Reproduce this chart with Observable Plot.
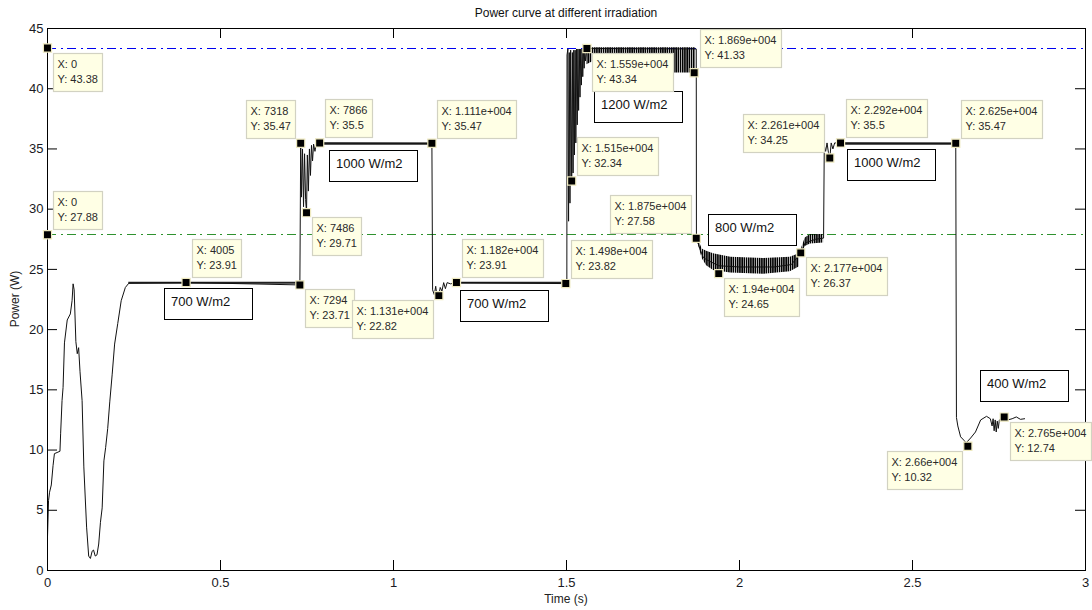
<!DOCTYPE html>
<html><head><meta charset="utf-8">
<script src="https://cdn.jsdelivr.net/npm/d3@7"></script>
<script src="https://cdn.jsdelivr.net/npm/@observablehq/plot@0.6"></script>
<style>html,body{margin:0;padding:0;background:#fff;}</style>
</head><body>
<div id="chart"></div>
<script>
// ---------- DATA (time in s, power in W) ----------
const startup = [[0,2.8],[0.003,5.8],[0.006,6.5],[0.011,7.1],[0.016,8.7],[0.020,9.7],[0.036,9.9],[0.038,11.4],[0.042,14.1],[0.045,15.2],[0.049,18.9],[0.057,20.8],[0.066,21.3],[0.071,22.4],[0.074,23.8],[0.077,23.3],[0.082,19.0],[0.086,18.0],[0.090,18.5],[0.094,16.5],[0.100,14.1],[0.105,8.6],[0.113,3.6],[0.119,1.2],[0.124,1.0],[0.129,1.6],[0.133,1.7],[0.138,1.2],[0.143,1.3],[0.148,2.2],[0.153,4.0],[0.158,5.2],[0.163,9.1],[0.168,10.2],[0.174,11.8],[0.180,14.0],[0.187,16.3],[0.194,18.8],[0.203,20.5],[0.213,22.4],[0.225,23.5],[0.235,23.85]];
const plateau700a = [[0.4005,23.91],[0.7294,23.71]];
const step1000a = [[0.7318,35.47],[0.734,31.0],[0.737,35.0],[0.740,30.2],[0.743,34.6],[0.746,30.8],[0.7486,29.71],[0.751,34.5],[0.754,31.5],[0.757,35.0],[0.760,32.8],[0.763,35.3],[0.766,34.0],[0.769,35.4],[0.773,34.8],[0.777,35.5],[0.7866,35.5]];
const plateau1000a = [[1.111,35.47]];
const drop700b = [[1.113,23.3],[1.118,22.9],[1.122,23.6],[1.125,22.9],[1.131,22.82],[1.135,23.5],[1.140,23.2],[1.145,23.9],[1.150,23.4],[1.155,23.9],[1.165,23.8],[1.182,23.91]];
const plateau700b = [[1.498,23.82],[1.501,23.9]];
const rise1200 = [[1.5015,42.8],[1.504,43.3],[1.506,29.0],[1.508,43.0],[1.510,30.5],[1.512,43.2],[1.515,32.34],[1.517,43.0],[1.519,33.0],[1.521,43.2],[1.523,34.5],[1.525,43.2],[1.527,35.5],[1.529,43.3],[1.531,37.0],[1.533,43.3],[1.535,38.2],[1.537,43.3],[1.539,39.3],[1.541,43.3],[1.543,40.3],[1.545,43.3],[1.547,41.0],[1.549,43.3],[1.551,41.7],[1.553,43.3],[1.555,42.3],[1.559,43.34]];
const plateau1200 = [[1.875,43.3]];
const drop800 = [[1.8755,27.58],[1.880,27.2],[1.887,26.6],[1.895,26.0],[1.905,25.8],[1.94,25.3],[2.0,25.2],[2.1,25.2],[2.15,25.4],[2.177,26.37],[2.19,27.2],[2.22,27.5],[2.243,27.6]];
const rise1000b = [[2.245,35.3],[2.249,34.8],[2.253,35.5],[2.257,34.7],[2.261,34.25],[2.265,35.5],[2.270,35.0],[2.275,35.5],[2.292,35.5]];
const plateau1000b = [[2.625,35.47]];
const drop400 = [[2.627,12.7],[2.631,12.0],[2.639,11.1],[2.649,10.8],[2.655,10.6],[2.668,11.0],[2.682,11.5],[2.697,12.5],[2.714,12.8],[2.725,12.6],[2.730,12.0],[2.733,12.6],[2.736,11.6],[2.739,12.5],[2.742,11.5],[2.745,12.4],[2.748,11.8],[2.751,12.5],[2.756,12.6],[2.765,12.74],[2.775,12.5],[2.788,12.6],[2.800,12.75],[2.812,12.55],[2.824,12.6]];

// ripple envelopes: [t, low, high]
const ripple700a = [[0.235,23.76,23.93],[0.729,23.76,23.93]];
const ripple1000a = [[0.787,35.3,35.5],[1.111,35.3,35.5]];
const ripple700b = [[1.182,23.76,23.93],[1.498,23.76,23.93]];
const ripple1000b = [[2.292,35.3,35.5],[2.625,35.3,35.5]];
const ripple1200 = [[1.559,42.0,43.4],[1.58,42.3,43.4],[1.65,42.6,43.4],[1.75,42.5,43.4],[1.80,42.2,43.4],[1.81,41.3,43.4],[1.873,41.3,43.4]];
const ripple800 = [[1.880,27.2,27.6],[1.892,25.9,26.7],[1.905,25.3,26.5],[1.925,24.9,26.3],[1.975,24.7,26.0],[2.07,24.6,25.9],[2.147,24.8,26.0],[2.172,25.2,26.3]];
const rippleRecover = [[2.180,26.3,26.8],[2.19,26.9,27.6],[2.205,27.1,27.9],[2.243,27.2,27.9]];

// reference lines
const refLevels = [43.38, 27.88];

// data tips (sample index, power)
const tipSample = [0, 0, 4005, 7318, 7866, 11110, 7486, 7294, 11310, 11820, 14980, 15150, 15590, 18690, 18750, 19400, 21770, 22610, 22920, 26250, 26600, 27650];
const tipPower = [43.38, 27.88, 23.91, 35.47, 35.5, 35.47, 29.71, 23.71, 22.82, 23.91, 23.82, 32.34, 43.34, 41.33, 27.58, 24.65, 26.37, 34.25, 35.5, 35.47, 10.32, 12.74];
const tipAnchor = ["se","ne","ne","nw","ne","ne","se","se","sw","ne","ne","ne","se","ne","nw","se","se","nw","ne","ne","sw","se"];

// irradiation annotations (box centre in data units)
const annotLabel = ["700 W/m2","1000 W/m2","700 W/m2","1200 W/m2","800 W/m2","1000 W/m2","400 W/m2"];
const annotT = [0.465, 0.943, 1.322, 1.707, 2.039, 2.439, 2.824];
const annotP = [22.09, 33.6, 21.97, 38.45, 28.28, 33.64, 15.28];

const xTicks = [0, 0.5, 1, 1.5, 2, 2.5, 3];
const yTicks = [0, 5, 10, 15, 20, 25, 30, 35, 40, 45];

const titleText = "Power curve at different irradiation";
const xLabel = "Time (s)";
const yLabel = "Power (W)";

// ---------- BUILD ----------
const W = 1092, H = 610;
const M = {top: 28, right: 7, bottom: 40, left: 47};
const FW = W - M.left - M.right, FH = H - M.top - M.bottom;
const TICK = 10;
const FONT = "'Liberation Sans', Arial, Helvetica, sans-serif";

const curve = [].concat(startup, plateau700a, step1000a, plateau1000a, drop700b, plateau700b, rise1200, plateau1200, drop800, rise1000b, plateau1000b, drop400)
  .map(([t, p]) => ({t, p}));
const thinBands = [ripple700a, ripple1000a, ripple700b, ripple1000b]
  .flatMap((s, i) => s.map(([t, lo, hi]) => ({seg: i, t, lo, hi})));
const wideBands = [ripple1200, ripple800, rippleRecover]
  .flatMap((s, i) => s.map(([t, lo, hi]) => ({seg: i, t, lo, hi})));

function fmtSample(n) {
  if (n < 10000) return String(n);
  const e = Math.floor(Math.log10(n));
  const m = (n / 10 ** e).toPrecision(4).replace(/0+$/, "").replace(/\.$/, "");
  return `${m}e+${String(e).padStart(3, "0")}`;
}
const tips = tipSample.map((s, i) => ({t: s / 10000, p: tipPower[i], xl: fmtSample(s), yl: String(tipPower[i]), a: tipAnchor[i]}));

const chart = Plot.plot({
  width: W, height: H,
  marginTop: M.top, marginRight: M.right, marginBottom: M.bottom, marginLeft: M.left,
  style: {fontFamily: FONT, fontSize: "13px", color: "#1a1a24", background: "#fff", overflow: "visible"},
  x: {domain: [0, 3]},
  y: {domain: [0, 45]},
  marks: [
    Plot.ruleY([refLevels[0]], {stroke: "#0000f0", strokeWidth: 1, strokeDasharray: "9,4.5,2,4.5", shapeRendering: "crispEdges"}),
    Plot.ruleY([refLevels[1]], {stroke: "#2f922f", strokeWidth: 1, strokeDasharray: "9,4.5,2,4.5", shapeRendering: "crispEdges"}),
    Plot.areaY(thinBands, {x: "t", y1: "lo", y2: "hi", z: "seg", fill: "#222"}),
    Plot.areaY(wideBands, {x: "t", y1: "lo", y2: "hi", z: "seg", fill: "#111", ariaDescription: "ripple-wide"}),
    Plot.line(curve, {x: "t", y: "p", stroke: "#111", strokeWidth: 1}),
    Plot.frame({stroke: "#000", strokeWidth: 1}),
    Plot.tickY(yTicks, {y: d => d, stroke: "#000", insetRight: FW - TICK}),
    Plot.tickY(yTicks, {y: d => d, stroke: "#000", insetLeft: FW - TICK}),
    Plot.tickX(xTicks, {x: d => d, stroke: "#000", insetTop: FH - TICK}),
    Plot.tickX(xTicks, {x: d => d, stroke: "#000", insetBottom: FH - TICK}),
    Plot.axisX(xTicks, {tickSize: 0, tickPadding: 7, tickFormat: d => String(d), label: null, fontSize: 13}),
    Plot.axisY(yTicks, {tickSize: 0, tickPadding: 4, tickFormat: d => String(d), label: null, fontSize: 13}),
    Plot.dot(tips, {x: "t", y: "p", symbol: "square", r: 4.6, fill: "#000", stroke: "#efeac0", strokeWidth: 1.2})
  ]
});
document.getElementById("chart").append(chart);

const sxO = chart.scale("x"), syO = chart.scale("y");
const sx = sxO.apply ? v => sxO.apply(v) : d3.scaleLinear(sxO.domain, sxO.range);
const sy = syO.apply ? v => syO.apply(v) : d3.scaleLinear(syO.domain, syO.range);
const svg = d3.select(chart);

// hatch pattern for the dense ripple bands
const defs = svg.insert("defs", ":first-child");
const pat = defs.append("pattern").attr("id", "hatch").attr("patternUnits", "userSpaceOnUse")
  .attr("width", 2.2).attr("height", 6);
pat.append("rect").attr("x", 0).attr("y", 0).attr("width", 1.6).attr("height", 6).attr("fill", "#000");
svg.selectAll("g[aria-description='ripple-wide'] path").attr("fill", "url(#hatch)");

// title and axis labels
svg.append("text").attr("x", M.left + FW / 2).attr("y", 17).attr("text-anchor", "middle")
  .attr("font-family", FONT).attr("font-size", 12).attr("fill", "#111").text(titleText);
svg.append("text").attr("x", M.left + FW / 2).attr("y", 603).attr("text-anchor", "middle")
  .attr("font-family", FONT).attr("font-size", 12).attr("fill", "#222").text(xLabel);
svg.append("text").attr("transform", `translate(19,${M.top + FH / 2}) rotate(-90)`).attr("text-anchor", "middle")
  .attr("font-family", FONT).attr("font-size", 12).attr("fill", "#222").text(yLabel);

// irradiation boxes
const gA = svg.append("g").attr("font-family", FONT).attr("font-size", 13).attr("text-anchor", "start");
annotLabel.forEach((lab, i) => {
  const cx = sx(annotT[i]), cy = sy(annotP[i]);
  const left = Math.round(cx - 44), top = Math.round(cy - 15.5);
  gA.append("rect").attr("x", left + 0.5).attr("y", top + 0.5).attr("width", 88).attr("height", 31)
    .attr("fill", "#fff").attr("stroke", "#000").attr("stroke-width", 1);
  gA.append("text").attr("x", left + 7).attr("y", top + 18).attr("fill", "#111").text(lab);
});

// data tips
const gT = svg.append("g").attr("font-family", FONT).attr("font-size", 11).attr("text-anchor", "start");
tips.forEach(d => {
  const mx = sx(d.t), my = sy(d.p);
  const g = gT.append("g");
  const rect = g.append("rect");
  const l1 = g.append("text").attr("fill", "#2a2a2a").text(`X: ${d.xl}`);
  const l2 = g.append("text").attr("fill", "#2a2a2a").text(`Y: ${d.yl}`);
  const tw = Math.max(l1.node().getComputedTextLength(), l2.node().getComputedTextLength());
  const bw = Math.round(tw + 9), bh = 38;
  const left = Math.round(d.a[1] === "e" ? mx + 6 : mx - 5 - bw);
  const top = Math.round(d.a[0] === "s" ? my + 5 : my - 5 - bh);
  rect.attr("x", left + 0.5).attr("y", top + 0.5).attr("width", bw).attr("height", bh)
    .attr("fill", "#ffffe5").attr("stroke", "#d2d2c2").attr("stroke-width", 1.2);
  l1.attr("x", left + 4.5).attr("y", top + 15);
  l2.attr("x", left + 4.5).attr("y", top + 30);
});
</script>
</body></html>
